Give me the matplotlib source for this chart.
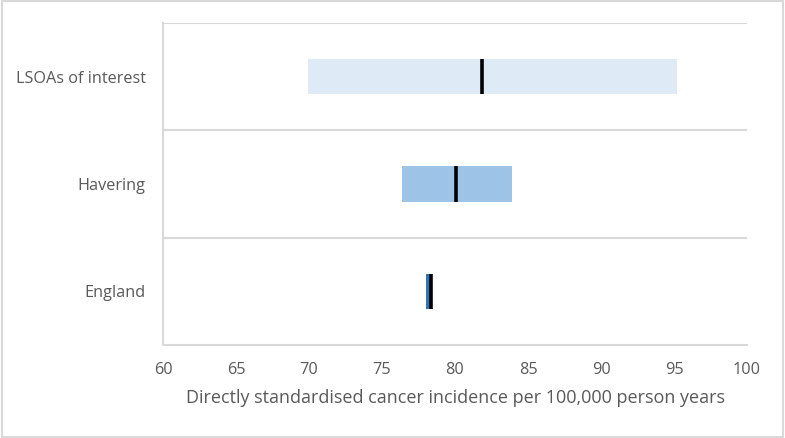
import matplotlib
matplotlib.use("Agg")
import matplotlib.pyplot as plt
from matplotlib.patches import Rectangle

categories = ["England", "Havering", "LSOAs of interest"]
lower = [78.0, 76.4, 69.9]
upper = [78.45, 83.9, 95.2]
estimate = [78.35, 80.1, 81.85]
bar_colors = ["#2E75B6", "#9DC3E6", "#DEEBF7"]
xticks = [60, 65, 70, 75, 80, 85, 90, 95, 100]
xlabel = "Directly standardised cancer incidence per 100,000 person years"

plt.rcParams['font.family'] = ['Open Sans', 'DejaVu Sans']
text_color = "#595959"
grid_color = "#D9D9D9"

fig = plt.figure(figsize=(7.85, 4.38), dpi=100)
ax = fig.add_axes([163/785, 1-345/438, (747-163)/785, (345-23)/438])

bh = 0.33
for i, cat in enumerate(categories):
    ax.barh(i, upper[i]-lower[i], left=lower[i], height=bh, color=bar_colors[i], edgecolor='none', zorder=2)
    ax.vlines(estimate[i], i-bh/2, i+bh/2, color='black', linewidth=2.6, zorder=3)

ax.set_xlim(60, 100)
ax.set_ylim(-0.5, 2.5)
ax.set_xticks(xticks)
ax.set_xticklabels([str(t) for t in xticks], fontsize=11.7, color=text_color)
ax.set_yticks(range(len(categories)))
ax.set_yticklabels(categories, fontsize=11.7, color=text_color)
ax.tick_params(axis='both', length=0)
ax.tick_params(axis='x', pad=12)
ax.tick_params(axis='y', pad=12.5)

for y in [0.5, 1.5, 2.5]:
    ax.axhline(y, color=grid_color, linewidth=1.5, zorder=1)
for s in ['top', 'right']:
    ax.spines[s].set_visible(False)
ax.spines['left'].set_color(grid_color)
ax.spines['left'].set_linewidth(1.5)
ax.spines['bottom'].set_color(grid_color)
ax.spines['bottom'].set_linewidth(1.5)

ax.set_xlabel(xlabel, fontsize=13, color=text_color, labelpad=8)

fig.patches.append(Rectangle((0.002, 0.003), 0.995, 0.994, transform=fig.transFigure,
                             fill=False, edgecolor=grid_color, linewidth=1.5))

fig.savefig("out.png", dpi=100)
